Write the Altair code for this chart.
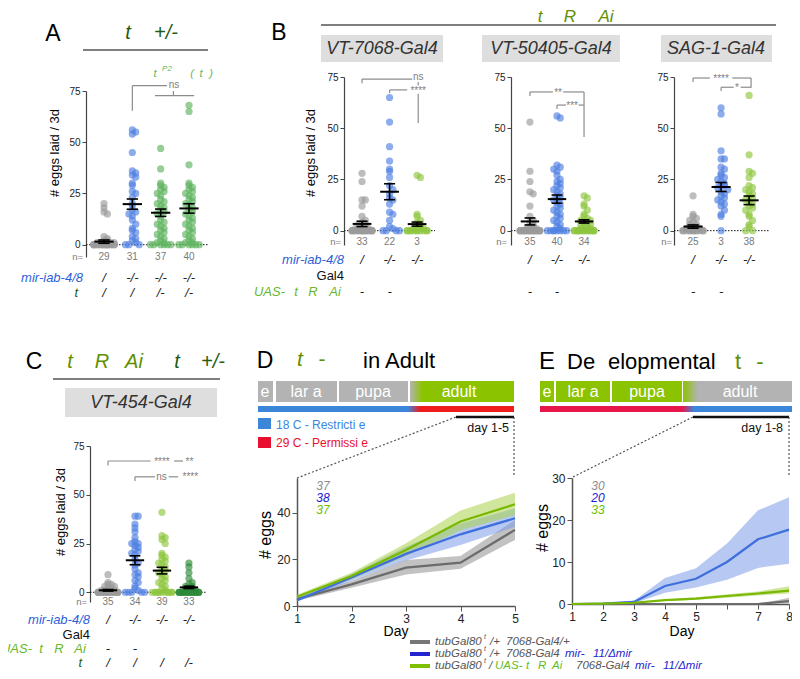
import altair as alt
import pandas as pd

FONT = "Liberation Sans"
W, H = 784, 663

# ---------------- dot-plot data: # eggs laid / 3d ----------------
A_CTRL = [20, 18, 16, 15, 4, 3, 2, 2, 1, 1, 1, 1, 0, 0, 0, 0, 0, 0, 0, 0, 0, 0, 0, 0, 0, 0, 0, 0, 0]
A_MIR = [56, 55, 54, 45, 36, 35, 34, 33, 30, 29, 26, 25, 23, 20, 19, 17, 16, 15, 14, 12, 10, 8, 7, 6, 4, 3, 2, 1, 0, 0, 0]
A_TRA1 = [47, 37, 30, 29, 28, 27, 26, 25, 24, 22, 21, 20, 19, 18, 17, 16, 15, 14, 12, 11, 10, 9, 8, 7, 6, 5, 4, 3, 2, 1, 1, 0, 0, 0, 0, 0, 0]
A_TRA2 = [68, 65, 39, 30, 29, 28, 27, 26, 25, 24, 23, 22, 21, 20, 19, 18, 17, 16, 15, 14, 13, 12, 11, 10, 9, 8, 7, 6, 5, 4, 3, 2, 1, 1, 0, 0, 0, 0, 0, 0]
A_MEAN = [1.5, 19.8, 15.6, 17.7]
A_SEM = [0.8, 2.5, 1.8, 2.3]
A_N = ["29", "31", "37", "40"]

B1_CTRL = [28, 24, 15, 15, 12, 7, 5, 4, 3, 3, 2, 2, 1, 1, 1, 0, 0, 0, 0, 0, 0, 0, 0, 0, 0, 0, 0, 0, 0, 0, 0, 0, 0]
B1_MIR = [65, 53, 41, 34, 30, 29, 26, 22, 20, 18, 16, 15, 13, 9, 8, 5, 2, 1, 0, 0, 0, 0]
B1_TRA = [27, 26, 8, 7, 5, 4, 3, 2, 2, 1, 1, 0, 0, 0, 0, 0, 0, 0, 0, 0, 0, 0]
B1_MEAN = [3.3, 19.0, 3.2]
B1_SEM = [1.3, 3.9, 1.0]
B1_N = ["33", "22", "3"]

B2_CTRL = [53, 29, 24, 19, 18, 12, 7, 5, 4, 3, 2, 2, 1, 1, 0, 0, 0, 0, 0, 0, 0, 0, 0, 0, 0, 0, 0, 0, 0, 0, 0, 0, 0, 0, 0]
B2_MIR = [56, 55, 32, 31, 30, 29, 27, 25, 24, 23, 22, 21, 20, 19, 18, 17, 16, 15, 14, 13, 12, 11, 10, 9, 8, 7, 6, 5, 4, 3, 2, 1, 0, 0, 0, 0, 0, 0, 0, 0]
B2_TRA = [17, 16, 13, 12, 10, 8, 7, 6, 5, 5, 4, 4, 3, 3, 2, 2, 1, 1, 0, 0, 0, 0, 0, 0, 0, 0, 0, 0, 0, 0, 0, 0, 0, 0]
B2_MEAN = [4.5, 15.4, 4.5]
B2_SEM = [1.7, 2.0, 0.8]
B2_N = ["35", "40", "34"]

B3_CTRL = [17, 8, 7, 6, 5, 4, 3, 3, 2, 2, 1, 1, 1, 0, 0, 0, 0, 0, 0, 0, 0, 0, 0, 0, 0]
B3_MIR = [60, 57, 39, 35, 35, 31, 30, 28, 27, 26, 25, 24, 23, 22, 22, 21, 20, 19, 18, 17, 16, 15, 14, 13, 12, 10, 8, 7, 0]
B3_TRA = [66, 37, 29, 28, 26, 22, 21, 20, 19, 18, 17, 16, 15, 14, 13, 12, 11, 10, 8, 7, 5, 3, 2, 0, 0]
B3_MEAN = [2.0, 21.3, 14.8]
B3_SEM = [0.8, 2.2, 2.1]
B3_N = ["25", "3", "38"]

C_CTRL = [9, 5, 4, 4, 3, 3, 2, 2, 1, 1, 1, 0, 0, 0, 0, 0, 0, 0, 0, 0, 0, 0, 0, 0, 0, 0, 0, 0, 0, 0, 0, 0, 0, 0, 0]
C_MIR = [39, 39, 35, 33, 31, 28, 26, 25, 25, 24, 23, 22, 21, 20, 19, 17, 15, 14, 12, 10, 9, 8, 6, 5, 3, 2, 1, 0, 0, 0, 0, 0]
C_TRA = [41, 29, 28, 27, 25, 20, 19, 18, 17, 16, 15, 14, 13, 12, 11, 10, 9, 8, 7, 6, 5, 4, 3, 2, 1, 0, 0, 0, 0, 0, 0, 0, 0, 0, 0, 0]
C_TRA_DF = [15, 13, 10, 7, 5, 4, 3, 3, 2, 2, 1, 1, 0, 0, 0, 0, 0, 0, 0, 0, 0, 0, 0, 0, 0, 0, 0, 0, 0, 0, 0, 0, 0]
C_MEAN = [1.0, 16.4, 11.1, 2.5]
C_SEM = [0.4, 2.3, 1.7, 0.6]
C_N = ["35", "34", "39", "33"]

# genotype rows (text values under each column)
GENO_A_MIR = ["/", "-/-", "-/-", "-/-"]
GENO_A_TRA = ["/", "/", "/-", "/-"]
GENO_B_MIR = ["/", "-/-", "-/-"]
GENO_B_UAS = ["-", "-", ""]
GENO_C_MIR = ["/", "-/-", "-/-", "-/-"]
GENO_C_UAS = ["-", "-", "", ""]
GENO_C_TRA = ["/", "/", "/", "/-"]

# significance brackets (category index, eggs)
BR_A = [[1, 1, 65.4, 77.6], [1, 2.22, 77.6, 77.6], [1.8, 3.18, 72.7, 72.7], [2.45, 2.45, 72.7, 75.0]]
BT_A = [[2.47, 77.8, "ns"]]
BR_B1 = [[0, 0, 72.0, 74.0], [0, 1.82, 74.0, 74.0], [2.04, 2.04, 70.8, 72.6],
         [1, 1, 67.2, 68.7], [1, 1.64, 68.7, 68.7], [2.04, 2.04, 52.6, 66.8]]
BT_B1 = [[2.04, 75.2, "ns"], [2.04, 68.4, "****"]]
BR_B2 = [[0, 0, 65.7, 67.7], [0, 0.85, 67.7, 67.7], [1.23, 2.0, 67.7, 67.7], [2.0, 2.0, 45.7, 67.7],
         [1, 1, 59.4, 61.3], [1, 1.33, 61.3, 61.3], [1.8, 2.0, 61.3, 61.3]]
BT_B2 = [[1.04, 67.4, "**"], [1.56, 61.0, "***"]]
BR_B3 = [[0, 0, 72.6, 74.5], [0, 0.6, 74.5, 74.5], [1.4, 2.07, 74.5, 74.5], [2.07, 2.07, 69.8, 74.5],
         [1, 1, 68.2, 70.0], [1, 1.45, 70.0, 70.0], [1.7, 2.07, 70.0, 70.0]]
BT_B3 = [[1.0, 74.2, "****"], [1.57, 69.7, "*"]]
BR_C = [[0, 0, 65.0, 67.3], [0, 1.58, 67.3, 67.3], [2.45, 2.78, 67.3, 67.3],
        [1, 1, 57.0, 59.2], [1, 1.74, 59.2, 59.2], [2.25, 2.6, 59.2, 59.2]]
BT_C = [[2.0, 67.0, "****"], [3.02, 67.0, "**"], [1.98, 59.3, "ns"], [3.05, 58.9, "****"]]

# ---------------- time-course data: cumulative # eggs ----------------
D_DAYS = [1, 2, 3, 4, 5]
D_CTRL = [3.0, 9.3, 16.5, 18.6, 32.7]
D_CTRL_LO = [2.3, 7.8, 13.5, 16.0, 28.4]
D_CTRL_HI = [3.8, 10.8, 19.8, 21.5, 37.0]
D_MIR = [2.5, 12.2, 22.4, 30.8, 37.7]
D_MIR_LO = [1.8, 11.0, 19.5, 26.2, 34.0]
D_MIR_HI = [3.2, 13.8, 25.5, 35.5, 42.0]
D_TRA = [4.0, 12.9, 24.1, 36.3, 43.7]
D_TRA_LO = [3.2, 11.5, 21.5, 32.5, 39.0]
D_TRA_HI = [4.8, 14.3, 27.0, 41.0, 48.7]

E_DAYS = [1, 2, 3, 4, 5, 6, 7, 8]
E_CTRL = [0, 0, 0, 0, 0, 0, 0, 0.7]
E_CTRL_LO = [0, 0, 0, 0, 0, 0, 0, 0.2]
E_CTRL_HI = [0, 0, 0, 0, 0, 0, 0, 1.5]
E_MIR = [0, 0.1, 0.5, 4.3, 6.0, 10.0, 15.4, 17.7]
E_MIR_LO = [0, 0, 0.2, 2.7, 3.9, 5.8, 8.6, 9.6]
E_MIR_HI = [0, 0.2, 0.8, 6.2, 8.5, 14.4, 22.3, 25.4]
E_TRA = [0, 0.1, 0.3, 0.9, 1.3, 1.9, 2.5, 3.2]
E_TRA_LO = [0, 0, 0.1, 0.7, 1.0, 1.5, 2.0, 2.5]
E_TRA_HI = [0, 0.2, 0.5, 1.1, 1.6, 2.3, 3.0, 4.2]

# ---------------- styles / layout ----------------
C_DKG = "#1f5c12"
C_OLIVE = "#5f8f00"
C_BLUE = "#2d5fd8"
C_LIME = "#68b82a"
C_AGR = "#5cb85c"

PT_SCALE = dict(domain=["ctrl", "mir", "tra", "lime", "dkg"],
                range=["#9a9a9a", "#4f80e2", "#5fb35f", "#8dc63f", "#2e8b3a"])
LINE_COL = {"ctrl": "#6b6b6b", "mir": "#3e6fdc", "tra": "#78b800"}
BAND_COL = {"ctrl": "#8f8f8f", "mir": "#7c9ce8", "tra": "#a8d24a"}

P = {
    "A": dict(xd=[-0.635, 3.67], xr=[78, 200], yd=[-6, 75], yr=[249, 83]),
    "B1": dict(xd=[-0.655, 2.65], xr=[336, 427], yd=[-7, 75], yr=[237, 69]),
    "B2": dict(xd=[-0.70, 2.59], xr=[503, 592], yd=[-7, 75], yr=[237, 69]),
    "B3": dict(xd=[-0.68, 2.71], xr=[666, 761], yd=[-7, 75], yr=[237, 69]),
    "C": dict(xd=[-0.667, 3.67], xr=[82, 199], yd=[-5, 75], yr=[594, 438]),
}
LP = {
    "D": dict(xd=[1, 5], xr=[289, 507], yd=[0, 55], yr=[598, 470]),
    "E": dict(xd=[1, 8], xr=[564, 781], yd=[0, 30], yr=[596, 470]),
}


def sc(d, r):
    return alt.Scale(domain=d, range=r, nice=False, zero=False)


def dot_panel(key, groups, means, sems, segs, labels, ns, n_y, geno):
    c = P[key]
    xs = sc(c["xd"], c["xr"])
    ys = sc(c["yd"], c["yr"])

    def X(f):
        return alt.X(f, scale=xs, axis=None)

    def Y(f):
        return alt.Y(f, scale=ys, axis=None)

    out = []
    yaxis = alt.Axis(orient="left", offset=-c["xr"][0], values=[0, 25, 50, 75], title=None,
                     grid=False, domainColor="#444", domainWidth=1.2, tickColor="#444",
                     tickSize=4, labelFontSize=10, labelColor="#222", labelPadding=2,
                     labelFont=FONT)
    zl = pd.DataFrame({"a": [c["xd"][0]], "b": [c["xd"][1]], "z": [0]})
    out.append(alt.Chart(zl).mark_rule(color="#111", strokeDash=[1.5, 1.5], strokeWidth=1)
               .encode(x=X("a:Q"), x2="b:Q", y=alt.Y("z:Q", scale=ys, axis=yaxis)))
    rows = [{"g": i, "v": v, "k": k} for i, (k, vals) in enumerate(groups) for v in vals]
    pts = (alt.Chart(pd.DataFrame(rows))
           .transform_calculate(vb="floor(datum.v / 2.5)")
           .transform_window(r="row_number()", groupby=["g", "vb"])
           .transform_calculate(j="(datum.r - 1) % 7")
           .transform_calculate(xj="datum.g + (datum.j % 2 == 1 ? 1 : -1) * ceil(datum.j / 2) * 0.12")
           .mark_circle(size=52, opacity=0.65)
           .encode(x=X("xj:Q"), y=Y("v:Q"),
                   color=alt.Color("k:N", scale=alt.Scale(**PT_SCALE), legend=None)))
    out.append(pts)
    ms = pd.DataFrame({"g": list(range(len(means))), "m": means, "s": sems})
    base = alt.Chart(ms).transform_calculate(
        lo="datum.m - datum.s", hi="datum.m + datum.s",
        a="datum.g - 0.34", b="datum.g + 0.34", ca="datum.g - 0.2", cb="datum.g + 0.2")
    out.append(base.mark_rule(color="black", strokeWidth=2).encode(x=X("a:Q"), x2="b:Q", y=Y("m:Q")))
    out.append(base.mark_rule(color="black", strokeWidth=1.6).encode(x=X("g:Q"), y=Y("lo:Q"), y2="hi:Q"))
    out.append(base.mark_rule(color="black", strokeWidth=1.6).encode(x=X("ca:Q"), x2="cb:Q", y=Y("lo:Q")))
    out.append(base.mark_rule(color="black", strokeWidth=1.6).encode(x=X("ca:Q"), x2="cb:Q", y=Y("hi:Q")))
    sg = pd.DataFrame(segs, columns=["x1", "x2", "y1", "y2"])
    out.append(alt.Chart(sg).mark_rule(color="#8c8c8c", strokeWidth=1.2)
               .encode(x=X("x1:Q"), x2="x2:Q", y=Y("y1:Q"), y2="y2:Q"))
    lb = pd.DataFrame(labels, columns=["x", "y", "t"])
    out.append(alt.Chart(lb).mark_text(font=FONT, fontSize=10, color="#808080", baseline="middle")
               .encode(x=X("x:Q"), y=Y("y:Q"), text="t:N"))
    nd = pd.DataFrame({"g": list(range(len(ns))), "t": ns})
    out.append(alt.Chart(nd).mark_text(font=FONT, fontSize=10, color="#7a7a7a", baseline="middle")
               .encode(x=X("g:Q"), y=alt.value(n_y - 8), text="t:N"))
    for ypg, vals in geno:
        gd = pd.DataFrame({"g": [i for i, v in enumerate(vals) if v], "t": [v for v in vals if v]})
        out.append(alt.Chart(gd).mark_text(font=FONT, fontSize=13, fontStyle="italic", color="#222",
                                           baseline="middle")
                   .encode(x=X("g:Q"), y=alt.value(ypg - 8), text="t:N"))
    return out


def line_panel(key, days, series, yvals, xvals, hide=None):
    c = LP[key]
    xs = sc(c["xd"], c["xr"])
    ys = sc(c["yd"], c["yr"])
    xk = dict(orient="bottom", offset=c["yr"][0] - H, values=xvals, title=None, grid=False,
              labelFlush=False, tickSize=5, labelFontSize=12, labelColor="#222", domainColor="#555",
              tickColor="#555", domainWidth=1.5, labelFont=FONT, labelPadding=2)
    if hide is not None:
        xk["labelExpr"] = "datum.value == %d ? '' : datum.label" % hide
    xaxis = alt.Axis(**xk)
    yaxis = alt.Axis(orient="left", offset=-c["xr"][0], values=yvals, title=None, grid=False,
                     tickSize=5, labelFontSize=12, labelColor="#222", domainColor="#555",
                     tickColor="#555", domainWidth=1.5, labelFont=FONT, labelPadding=2)
    out = []
    for i, (k, m, lo, hi) in enumerate(series):
        df = pd.DataFrame({"d": days, "m": m, "lo": lo, "hi": hi})
        out.append(alt.Chart(df).mark_area(color=BAND_COL[k], opacity=0.55).encode(
            x=alt.X("d:Q", scale=xs, axis=xaxis if i == 0 else None),
            y=alt.Y("lo:Q", scale=ys, axis=yaxis if i == 0 else None), y2="hi:Q"))
    for k, m, lo, hi in series:
        df = pd.DataFrame({"d": days, "m": m})
        out.append(alt.Chart(df).mark_line(color=LINE_COL[k], strokeWidth=2.2).encode(
            x=alt.X("d:Q", scale=xs, axis=None), y=alt.Y("m:Q", scale=ys, axis=None)))
    return out


# ---------------- annotations (page pixel positions) ----------------
TXT = []


def T(s, x, y, size=12, color="#000", style="normal", align="center", angle=0):
    TXT.append(dict(t=s, x=x - 8, y=y - 8, s=size, c=color, st=style, al=align, an=angle))


RECT = []


def R(x1, x2, y1, y2, color):
    RECT.append(dict(x=x1 - 8, x2=x2 - 8, y=y1 - 8, y2=y2 - 8, c=color))


RULES = []
DOTS = []


def L(x1, y1, x2, y2, color, w, dotted=False):
    (DOTS if dotted else RULES).append(dict(x=x1 - 8, y=y1 - 8, x2=x2 - 8, y2=y2 - 8, c=color, w=w))


GRECT = []


def G(x1, x2, y1, y2, c1, c2, o1, o2):
    GRECT.append((dict(x=x1 - 8, x2=x2 - 8, y=y1 - 8, y2=y2 - 8),
                  {"gradient": "linear", "x1": 0, "y1": 0, "x2": 1, "y2": 0,
                   "stops": [{"offset": 0, "color": c1}, {"offset": o1, "color": c1},
                             {"offset": o2, "color": c2}, {"offset": 1, "color": c2}]}))


# Panel A
T("A", 53, 34, 23)
T("t", 128, 33, 20, C_DKG, "italic")
T("+/-", 166, 33, 20, C_DKG, "italic")
L(83, 50, 208, 50, "#555", 1.5)
T("t", 155, 74, 11, C_AGR, "italic")
T("P2", 167, 69, 8, C_AGR, "italic")
T("(", 192, 74, 11, C_AGR, "italic")
T("t", 201, 74, 11, C_AGR, "italic")
T(")", 211, 74, 11, C_AGR, "italic")
T("# eggs laid / 3d", 55, 153, 13, angle=270)
T("n=", 83, 257, 9.5, "#7a7a7a", align="right")
T("mir-iab-4/8", 83, 278, 13, C_BLUE, "italic", "right")
T("t", 78, 293, 13, C_DKG, "italic", "right")

# Panel B
T("B", 279, 33, 23)
T("t", 540, 17, 17, C_OLIVE, "italic")
T("R", 570, 17, 17, C_OLIVE, "italic")
T("Ai", 606, 17, 17, C_OLIVE, "italic")
L(321, 25, 776, 25, "#555", 1.5)
R(321, 443, 35, 62, "#dedede")
R(482, 620, 35, 62, "#dedede")
R(661, 772, 35, 62, "#dedede")
T("VT-7068-Gal4", 382, 49, 18, "#333", "italic")
T("VT-50405-Gal4", 551, 49, 18, "#333", "italic")
T("SAG-1-Gal4", 716, 49, 18, "#333", "italic")
T("# eggs laid / 3d", 311, 153, 13, angle=270)
T("n=", 341, 242, 9.5, "#7a7a7a", align="right")
T("n=", 507, 242, 9.5, "#7a7a7a", align="right")
T("n=", 672, 242, 9.5, "#7a7a7a", align="right")
T("mir-iab-4/8", 344, 260, 13, C_BLUE, "italic", "right")
T("Gal4", 344, 276, 13, "#111", "normal", "right")
T("UAS-", 285, 292, 13, C_LIME, "italic", "right")
T("t", 296, 292, 13, C_LIME, "italic")
T("R", 313, 292, 13, C_LIME, "italic")
T("Ai", 335, 292, 13, C_LIME, "italic")

# Panel C
T("C", 34, 362, 23)
T("t", 70, 362, 20, C_OLIVE, "italic")
T("R", 102, 362, 20, C_OLIVE, "italic")
T("Ai", 134, 362, 20, C_OLIVE, "italic")
T("t", 177, 362, 20, C_DKG, "italic")
T("+/-", 213, 362, 20, C_DKG, "italic")
L(53, 379, 220, 379, "#555", 1.5)
R(65, 217, 388, 417, "#dedede")
T("VT-454-Gal4", 141, 403, 18, "#333", "italic")
T("# eggs laid / 3d", 61, 512, 13, angle=270)
T("n=", 87, 602, 9.5, "#7a7a7a", align="right")
T("mir-iab-4/8", 90, 620, 13, C_BLUE, "italic", "right")
T("Gal4", 90, 635, 13, "#111", "normal", "right")
T("UAS-", 32, 649, 13, C_LIME, "italic", "right")
T("t", 41, 649, 13, C_LIME, "italic")
T("R", 59, 649, 13, C_LIME, "italic")
T("Ai", 80, 649, 13, C_LIME, "italic")
T("t", 82, 663, 13, C_DKG, "italic", "right")

# Panel D
T("D", 265, 361, 23)
T("t", 300, 360, 21, C_OLIVE, "italic")
T("-", 322, 360, 21, C_OLIVE)
T("in Adult", 363, 361, 22, align="left")
R(258, 273, 381, 402, "#b3b3b3")
R(276, 337, 381, 402, "#b3b3b3")
R(339, 408, 381, 402, "#b3b3b3")
G(410, 514, 381, 402, "#b3b3b3", "#8cc300", 0.0, 0.12)
R(258, 408, 406, 412, "#3b86d9")
G(408, 420, 406, 412, "#3b86d9", "#ee1c1c", 0.0, 1.0)
R(420, 514, 406, 412, "#ee1c1c")
T("e", 265, 392, 16, "#fff")
T("lar a", 306, 392, 16, "#fff")
T("pupa", 373, 392, 16, "#fff")
T("adult", 459, 392, 16, "#fff")
R(258, 271, 418, 429, "#3b86d9")
R(258, 271, 437, 448, "#e8102e")
T("18 C - Restricti e", 276, 425, 12, "#3a86e0", align="left")
T("29 C - Permissi e", 276, 443, 12, "#e8102e", align="left")
L(456, 417, 514, 417, "#111", 2.5)
T("day 1-5", 509, 428, 12.5, "#111", align="right")
L(297, 478, 456, 417, "#555", 1.2, True)
L(514, 417, 514, 476, "#555", 1.2, True)
T("# eggs", 266, 535, 16, angle=270)
T("Day", 396, 632, 14)
T("37", 323, 486, 12, "#8c8c8c", "italic")
T("38", 323, 498, 12, "#2020d0", "italic")
T("37", 323, 510, 12, "#6cc000", "italic")

# Panel E
T("E", 547, 362, 24)
T("De", 567, 362, 22, align="left")
T("elopmental", 608, 362, 22, align="left")
T("t", 738, 362, 22, C_OLIVE)
T("-", 760, 362, 22, C_OLIVE)
R(540, 554, 381, 402, "#8cc300")
R(556, 610, 381, 402, "#8cc300")
R(612, 682, 381, 402, "#8cc300")
G(683, 798, 381, 402, "#8cc300", "#b3b3b3", 0.0, 0.13)
R(540, 682, 406, 412, "#e8174a")
G(682, 694, 406, 412, "#e8174a", "#3b86d9", 0.0, 1.0)
R(694, 798, 406, 412, "#3b86d9")
T("e", 547, 392, 16, "#fff")
T("lar a", 583, 392, 16, "#fff")
T("pupa", 647, 392, 16, "#fff")
T("adult", 740, 392, 16, "#fff")
L(693, 417, 789, 417, "#111", 2.5)
T("day 1-8", 783, 428, 12.5, "#111", align="right")
L(573, 477, 693, 417, "#555", 1.2, True)
L(789, 417, 789, 476, "#555", 1.2, True)
T("# eggs", 543, 528, 16, angle=270)
T("Day", 682, 632, 14)
T("30", 598, 486, 12, "#8c8c8c", "italic")
T("20", 598, 498, 12, "#2020d0", "italic")
T("33", 598, 510, 12, "#6cc000", "italic")

# Legend of D/E
L_GRAY = "#555"
L_BLUE = "#2424d0"
L_LIME = "#66bb22"
LEG_Y = [642, 654, 666]
L(410, LEG_Y[0], 430, LEG_Y[0], "#777777", 4)
L(410, LEG_Y[1], 430, LEG_Y[1], "#2424d0", 4)
L(410, LEG_Y[2], 430, LEG_Y[2], "#7dc000", 4)
for yy in LEG_Y:
    T("tubGal80", 435, yy, 11.5, L_GRAY, "italic", "left")
    T("t", 484, yy - 5, 7, L_GRAY, "italic", "left")
T("/+", 490, LEG_Y[0], 11.5, L_GRAY, "italic", "left")
T("7068-Gal4/+", 506, LEG_Y[0], 11.5, L_GRAY, "italic", "left")
T("/+", 490, LEG_Y[1], 11.5, L_GRAY, "italic", "left")
T("7068-Gal4", 506, LEG_Y[1], 11.5, L_GRAY, "italic", "left")
T("mir-", 565, LEG_Y[1], 11.5, L_BLUE, "italic", "left")
T("11/\u0394mir", 593, LEG_Y[1], 11.5, L_BLUE, "italic", "left")
T("/", 489, LEG_Y[2], 11.5, L_GRAY, "italic", "left")
T("UAS-", 495, LEG_Y[2], 11.5, L_LIME, "italic", "left")
T("t", 526, LEG_Y[2], 11.5, L_LIME, "italic", "left")
T("R", 538, LEG_Y[2], 11.5, L_LIME, "italic", "left")
T("Ai", 552, LEG_Y[2], 11.5, L_LIME, "italic", "left")
T("7068-Gal4", 576, LEG_Y[2], 11.5, L_GRAY, "italic", "left")
T("mir-", 635, LEG_Y[2], 11.5, L_BLUE, "italic", "left")
T("11/\u0394mir", 663, LEG_Y[2], 11.5, L_BLUE, "italic", "left")

# ---------------- build layers ----------------
layers = []
layers.append(alt.Chart(pd.DataFrame(RECT)).mark_rect().encode(
    x=alt.X("x:Q", scale=None), x2="x2:Q", y=alt.Y("y:Q", scale=None), y2="y2:Q",
    color=alt.Color("c:N", scale=None)))
for pos, grad in GRECT:
    layers.append(alt.Chart(pd.DataFrame([pos])).mark_rect(color=grad).encode(
        x=alt.X("x:Q", scale=None), x2="x2:Q", y=alt.Y("y:Q", scale=None), y2="y2:Q"))
layers.append(alt.Chart(pd.DataFrame(RULES)).mark_rule().encode(
    x=alt.X("x:Q", scale=None), x2="x2:Q", y=alt.Y("y:Q", scale=None), y2="y2:Q",
    color=alt.Color("c:N", scale=None), strokeWidth=alt.StrokeWidth("w:Q", scale=None)))
layers.append(alt.Chart(pd.DataFrame(DOTS)).mark_rule(strokeDash=[2, 2]).encode(
    x=alt.X("x:Q", scale=None), x2="x2:Q", y=alt.Y("y:Q", scale=None), y2="y2:Q",
    color=alt.Color("c:N", scale=None), strokeWidth=alt.StrokeWidth("w:Q", scale=None)))

layers += dot_panel("A", [("ctrl", A_CTRL), ("mir", A_MIR), ("tra", A_TRA1), ("tra", A_TRA2)],
                    A_MEAN, A_SEM, BR_A, BT_A, A_N, 257, [(278, GENO_A_MIR), (293, GENO_A_TRA)])
layers += dot_panel("B1", [("ctrl", B1_CTRL), ("mir", B1_MIR), ("lime", B1_TRA)],
                    B1_MEAN, B1_SEM, BR_B1, BT_B1, B1_N, 242, [(260, GENO_B_MIR), (292, GENO_B_UAS)])
layers += dot_panel("B2", [("ctrl", B2_CTRL), ("mir", B2_MIR), ("lime", B2_TRA)],
                    B2_MEAN, B2_SEM, BR_B2, BT_B2, B2_N, 242, [(260, GENO_B_MIR), (292, GENO_B_UAS)])
layers += dot_panel("B3", [("ctrl", B3_CTRL), ("mir", B3_MIR), ("lime", B3_TRA)],
                    B3_MEAN, B3_SEM, BR_B3, BT_B3, B3_N, 242, [(260, GENO_B_MIR), (292, GENO_B_UAS)])
layers += dot_panel("C", [("ctrl", C_CTRL), ("mir", C_MIR), ("lime", C_TRA), ("dkg", C_TRA_DF)],
                    C_MEAN, C_SEM, BR_C, BT_C, C_N, 602,
                    [(620, GENO_C_MIR), (649, GENO_C_UAS), (663, GENO_C_TRA)])
layers += line_panel("D", D_DAYS,
                     [("ctrl", D_CTRL, D_CTRL_LO, D_CTRL_HI), ("mir", D_MIR, D_MIR_LO, D_MIR_HI),
                      ("tra", D_TRA, D_TRA_LO, D_TRA_HI)],
                     [0, 20, 40], D_DAYS)
layers += line_panel("E", E_DAYS,
                     [("ctrl", E_CTRL, E_CTRL_LO, E_CTRL_HI), ("mir", E_MIR, E_MIR_LO, E_MIR_HI),
                      ("tra", E_TRA, E_TRA_LO, E_TRA_HI)],
                     [0, 10, 20, 30], E_DAYS, hide=6)

tdf = pd.DataFrame(TXT)
for (st, al, an), sub in tdf.groupby(["st", "al", "an"]):
    layers.append(alt.Chart(sub.reset_index(drop=True)).mark_text(
        font=FONT, fontStyle=str(st), align=str(al), baseline="middle", angle=int(an)).encode(
        x=alt.X("x:Q", scale=None), y=alt.Y("y:Q", scale=None), text="t:N",
        color=alt.Color("c:N", scale=None), size=alt.Size("s:Q", scale=None)))

chart = (alt.layer(*layers)
         .resolve_scale(x="independent", y="independent", color="independent")
         .properties(width=W, height=H, autosize=alt.AutoSizeParams(type="none"), padding=0)
         .configure(font=FONT)
         .configure_view(stroke=None)
         .configure_axis(grid=False, labelFont=FONT))

chart.save("out.html", embed_options={"renderer": "svg", "actions": False})
